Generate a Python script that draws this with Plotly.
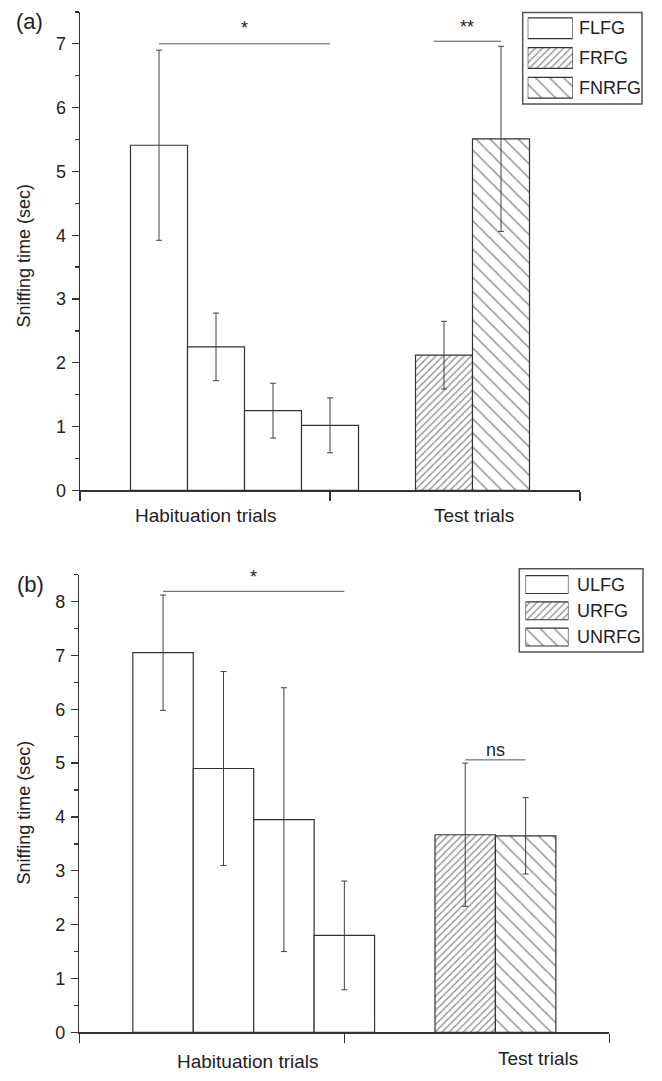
import plotly.graph_objects as go

# ---------------- data ----------------
hab_pos = [1, 2, 3, 4]          # slot index of habituation trials
test_pos = [6, 7]               # slot index of the two test-trial bars

a_flfg = [5.41, 2.25, 1.25, 1.02]
a_flfg_err = [1.49, 0.53, 0.43, 0.43]
a_frfg = [2.12]
a_frfg_err = [0.53]
a_fnrfg = [5.51]
a_fnrfg_err = [1.45]

b_ulfg = [7.05, 4.90, 3.95, 1.80]
b_ulfg_err = [1.07, 1.80, 2.45, 1.01]
b_urfg = [3.67]
b_urfg_err = [1.33]
b_unrfg = [3.65]
b_unrfg_err = [0.71]

a_names = ["FLFG", "FRFG", "FNRFG"]
b_names = ["ULFG", "URFG", "UNRFG"]
group_labels = ["Habituation trials", "Test trials"]
y_title = "Sniffing time (sec)"

# significance brackets: (x0, x1, y, text, text_y)
a_sig = [(1, 4, 7.0, "*", 7.25), (5.82, 7, 7.04, "**", 7.27)]
b_sig = [(1, 4, 8.19, "*", 8.45), (6, 7, 5.06, "ns", 5.25)]

# ---------------- layout helpers ----------------
W, H = 662, 1081
FONT = "Liberation Sans, Arial, sans-serif"
TXT = "#222222"
EDGE = "#333333"
PAT = "#222222"


def fx(p):
    return p / W


def fy(p):
    return 1 - p / H


fig = go.Figure()

styles = {
    "plain": None,
    "fwd": dict(shape="/", size=5, solidity=0.28),
    "back": dict(shape="\\", size=10, solidity=0.15),
}


def make_marker(style):
    pat = styles[style]
    mk = dict(color="white", line=dict(color=EDGE, width=1.2))
    if pat:
        mk["pattern"] = dict(fgcolor=PAT, bgcolor="white", **pat)
    return mk


def add_bars(vals, errs, pos, xa, ya, style):
    fig.add_trace(go.Bar(x=pos, y=vals, width=1, marker=make_marker(style),
                         error_y=dict(type="data", array=errs, color="#404040",
                                      thickness=1, width=3),
                         xaxis=xa, yaxis=ya, showlegend=False,
                         hoverinfo="skip"))


add_bars(a_flfg, a_flfg_err, hab_pos, "x", "y", "plain")
add_bars(a_frfg, a_frfg_err, test_pos[:1], "x", "y", "fwd")
add_bars(a_fnrfg, a_fnrfg_err, test_pos[1:], "x", "y", "back")
add_bars(b_ulfg, b_ulfg_err, hab_pos, "x2", "y2", "plain")
add_bars(b_urfg, b_urfg_err, test_pos[:1], "x2", "y2", "fwd")
add_bars(b_unrfg, b_unrfg_err, test_pos[1:], "x2", "y2", "back")

# legend swatches drawn as horizontal bars on tiny hidden axes
for xa, ya, bw in (("x3", "y3", 0.7), ("x4", "y4", 0.68)):
    for i, st in enumerate(["plain", "fwd", "back"]):
        fig.add_trace(go.Bar(x=[1], y=[2 - i], orientation="h", width=bw,
                             marker=make_marker(st), xaxis=xa, yaxis=ya,
                             showlegend=False, hoverinfo="skip"))

xrange = [4 - 4.386, 4 + 4.386]
xticks = [xrange[0] + 0.002, 4, xrange[1] - 0.002]

xcommon = dict(range=xrange, showline=True, linecolor=EDGE, linewidth=1.5,
               tickvals=xticks, ticks="outside", ticklen=9, tickwidth=1.5,
               tickcolor=EDGE, showticklabels=False, showgrid=False,
               zeroline=False, fixedrange=True)
ycommon = dict(showline=True, linecolor=EDGE, linewidth=1.5, dtick=1,
               ticks="outside", ticklen=7, tickwidth=1.3, tickcolor=EDGE,
               tickfont=dict(family=FONT, size=18, color=TXT),
               minor=dict(dtick=0.5, ticks="outside", ticklen=4,
                          tickwidth=1.3, tickcolor=EDGE),
               showgrid=False, zeroline=False, ticklabelstandoff=2,
               fixedrange=True)

hidden = dict(visible=False, showgrid=False, zeroline=False, fixedrange=True)

fig.update_layout(
    width=W, height=H, autosize=False,
    margin=dict(l=0, r=0, t=0, b=0),
    paper_bgcolor="white", plot_bgcolor="white",
    barmode="overlay", bargap=0,
    font=dict(family=FONT, size=18, color=TXT),
    xaxis=dict(domain=[fx(80), fx(580)], anchor="y", **xcommon),
    yaxis=dict(domain=[fy(495), fy(12)], anchor="x", range=[0, 7.5], **ycommon),
    xaxis2=dict(domain=[fx(79.3), fx(609.4)], anchor="y2", **xcommon),
    yaxis2=dict(domain=[fy(1042), fy(580)], anchor="x2", range=[0, 8.5], **ycommon),
    xaxis3=dict(domain=[fx(527.7), fx(572.7)], anchor="y3", range=[0, 1], **hidden),
    yaxis3=dict(domain=[fy(103.5), fy(13.5)], anchor="x3", range=[-0.5, 2.5], **hidden),
    xaxis4=dict(domain=[fx(525.5), fx(568.5)], anchor="y4", range=[0, 1], **hidden),
    yaxis4=dict(domain=[fy(656.3), fy(576.8)], anchor="x4", range=[-0.5, 2.5], **hidden),
)

shapes = []
annots = []


def note(**kw):
    base = dict(showarrow=False, xanchor="center", yanchor="middle")
    base.update(kw)
    annots.append(base)


# significance brackets
for sig, xr, yr in ((a_sig, "x", "y"), (b_sig, "x2", "y2")):
    for x0, x1, yv, txt, ty in sig:
        shapes.append(dict(type="line", xref=xr, yref=yr, x0=x0, x1=x1,
                           y0=yv, y1=yv, line=dict(color="#555555", width=1)))
        note(xref=xr, yref=yr, x=(x0 + x1) / 2, y=ty, text=txt,
             font=dict(size=18, color=TXT))

# group labels under the x axes
lab_font = dict(size=19, color=TXT)
note(xref="x", yref="paper", x=1.82, y=fy(520), text=group_labels[0], font=lab_font)
note(xref="x", yref="paper", x=6.53, y=fy(520), text=group_labels[1], font=lab_font)
note(xref="x2", yref="paper", x=2.41, y=fy(1071), text=group_labels[0], font=lab_font)
note(xref="x2", yref="paper", x=7.21, y=fy(1068), text=group_labels[1], font=lab_font)

# y titles and panel letters
for yc in (258, 820):
    note(xref="paper", yref="paper", x=fx(24), y=fy(yc), text=y_title,
         textangle=-90, font=dict(size=18, color=TXT))
note(xref="paper", yref="paper", x=fx(29), y=fy(22), text="(a)",
     font=dict(size=22, color=TXT))
note(xref="paper", yref="paper", x=fx(30), y=fy(590), text="(b)",
     font=dict(size=22, color=TXT))

# legend boxes and texts
for names, yaxis, xtext, box in ((a_names, "y3", 577, (522.7, 642, 12.7, 105)),
                                 (b_names, "y4", 575, (519.3, 643, 574, 658))):
    x0, x1, y0, y1 = box
    shapes.append(dict(type="rect", xref="paper", yref="paper",
                       x0=fx(x0), x1=fx(x1), y0=fy(y1), y1=fy(y0),
                       line=dict(color="#555555", width=1.5)))
    for i, nm in enumerate(names):
        note(xref="paper", yref=yaxis, x=fx(xtext), y=2 - i, text=nm,
             xanchor="left", font=dict(size=18, color=TXT))

fig.update_layout(shapes=shapes, annotations=annots)
fig.write_html("out.html",
               config={"displayModeBar": False, "staticPlot": True},
               post_script="document.body.style.margin='0';"
                           "document.documentElement.style.margin='0';")
